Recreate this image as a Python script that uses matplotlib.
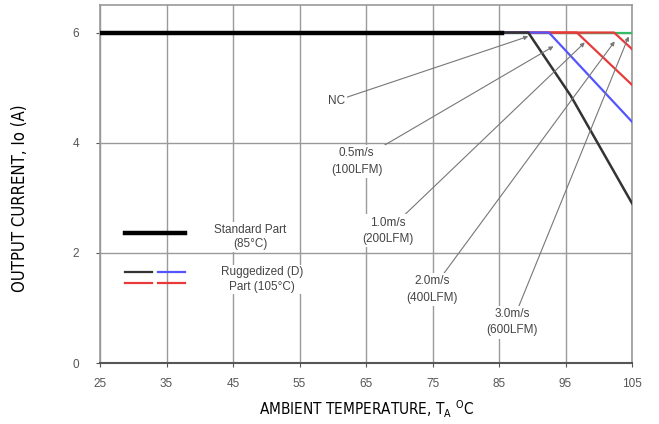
import matplotlib
matplotlib.use("Agg")
import matplotlib.pyplot as plt
from matplotlib.lines import Line2D

# derating curves (ambient temp degC, output current A)
std_t = [25, 85.4]
std_i = [6, 6]
nc_t = [25, 89.4, 95.8, 105]
nc_i = [6, 6, 4.85, 2.9]
v05_t = [25, 92.5, 105]
v05_i = [6, 6, 4.38]
v10_t = [25, 96.7, 105]
v10_i = [6, 6, 5.05]
v20_t = [25, 102.3, 105]
v20_i = [6, 6, 5.7]
v30_t = [25, 105]
v30_i = [6, 6]

# annotation labels, where the pointer lands and where the text sits
ann_labels = ["NC", "0.5m/s\n(100LFM)", "1.0m/s\n(200LFM)", "2.0m/s\n(400LFM)", "3.0m/s\n(600LFM)"]
ann_tips = [(89.4, 5.93), (93.2, 5.75), (97.9, 5.82), (102.4, 5.84), (104.5, 5.93)]
ann_text = [(60.5, 4.76), (63.6, 3.66), (68.3, 2.40), (74.9, 1.33), (87.0, 0.74)]

xticks = [25, 35, 45, 55, 65, 75, 85, 95, 105]
yticks = [0, 2, 4, 6]

plt.rcParams['font.family'] = ['Liberation Sans', 'DejaVu Sans']

fig = plt.figure(figsize=(6.59, 4.24), dpi=100)
ax = fig.add_axes([100 / 659, 1 - 363 / 424, 532 / 659, 358 / 424])

ax.set_xlim(25, 105)
ax.set_ylim(0, 6.5)
ax.set_xticks(xticks)
ax.set_yticks(yticks)
ax.tick_params(labelsize=8.5, colors='#555555', length=3, width=0.8)
ax.tick_params(axis='x', pad=8)
ax.tick_params(axis='y', pad=12)
ax.grid(True, color='#9a9a9a', linewidth=1.0)
for s in ['top', 'right', 'left']:
    ax.spines[s].set_color('#999999')
    ax.spines[s].set_linewidth(1.2)
ax.spines['bottom'].set_color('#555555')
ax.spines['bottom'].set_linewidth(1.5)

ax.plot(v30_t, v30_i, color='#33bb66', lw=1.6, zorder=3)
ax.plot(v20_t, v20_i, color='#e83a3a', lw=1.6, zorder=3)
ax.plot(v10_t, v10_i, color='#e83a3a', lw=1.6, zorder=3)
ax.plot(v05_t, v05_i, color='#5555ff', lw=1.6, zorder=4)
ax.plot(nc_t, nc_i, color='#333333', lw=1.8, zorder=5)
ax.plot(std_t, std_i, color='black', lw=3.2, zorder=6)

for lab, tip, pos in zip(ann_labels, ann_tips, ann_text):
    ax.annotate(lab, xy=tip, xytext=pos, ha='center', va='center',
                fontsize=8.5, color='#444444', linespacing=1.5,
                bbox=dict(facecolor='white', edgecolor='none', pad=1.5),
                arrowprops=dict(arrowstyle='-|>', color='#777777', lw=0.8,
                                mutation_scale=6, shrinkA=0, shrinkB=0),
                zorder=7)

# hand-drawn legend in axes coordinates
tr = ax.transAxes
ax.add_line(Line2D([0.047, 0.16], [0.363, 0.363], transform=tr, color='black', lw=3.2, zorder=8))
ax.add_line(Line2D([0.047, 0.098], [0.254, 0.254], transform=tr, color='#333333', lw=1.6, zorder=8))
ax.add_line(Line2D([0.109, 0.16], [0.254, 0.254], transform=tr, color='#5555ff', lw=1.6, zorder=8))
ax.add_line(Line2D([0.047, 0.098], [0.223, 0.223], transform=tr, color='#e83a3a', lw=1.6, zorder=8))
ax.add_line(Line2D([0.109, 0.16], [0.223, 0.223], transform=tr, color='#e83a3a', lw=1.6, zorder=8))
ax.text(0.283, 0.352, "Standard Part\n(85\u00b0C)", transform=tr, ha='center', va='center',
        fontsize=8.5, color='#444444', linespacing=1.3,
        bbox=dict(facecolor='white', edgecolor='none', pad=1), zorder=8)
ax.text(0.305, 0.233, "Ruggedized (D)\nPart (105\u00b0C)", transform=tr, ha='center', va='center',
        fontsize=8.5, color='#444444', linespacing=1.3,
        bbox=dict(facecolor='white', edgecolor='none', pad=1), zorder=8)

ax.set_xlabel("AMBIENT TEMPERATURE, T$_\\mathregular{A}$ $^\\mathregular{O}$C",
              fontsize=11, family='DejaVu Sans', fontstretch='condensed')
ax.xaxis.set_label_coords(0.5, -0.1)
ax.set_ylabel("OUTPUT CURRENT, Io (A)", fontsize=12,
              family='DejaVu Sans', fontstretch='condensed')
ax.yaxis.set_label_coords(-0.133, 0.46)

fig.savefig("out.png", dpi=100)
